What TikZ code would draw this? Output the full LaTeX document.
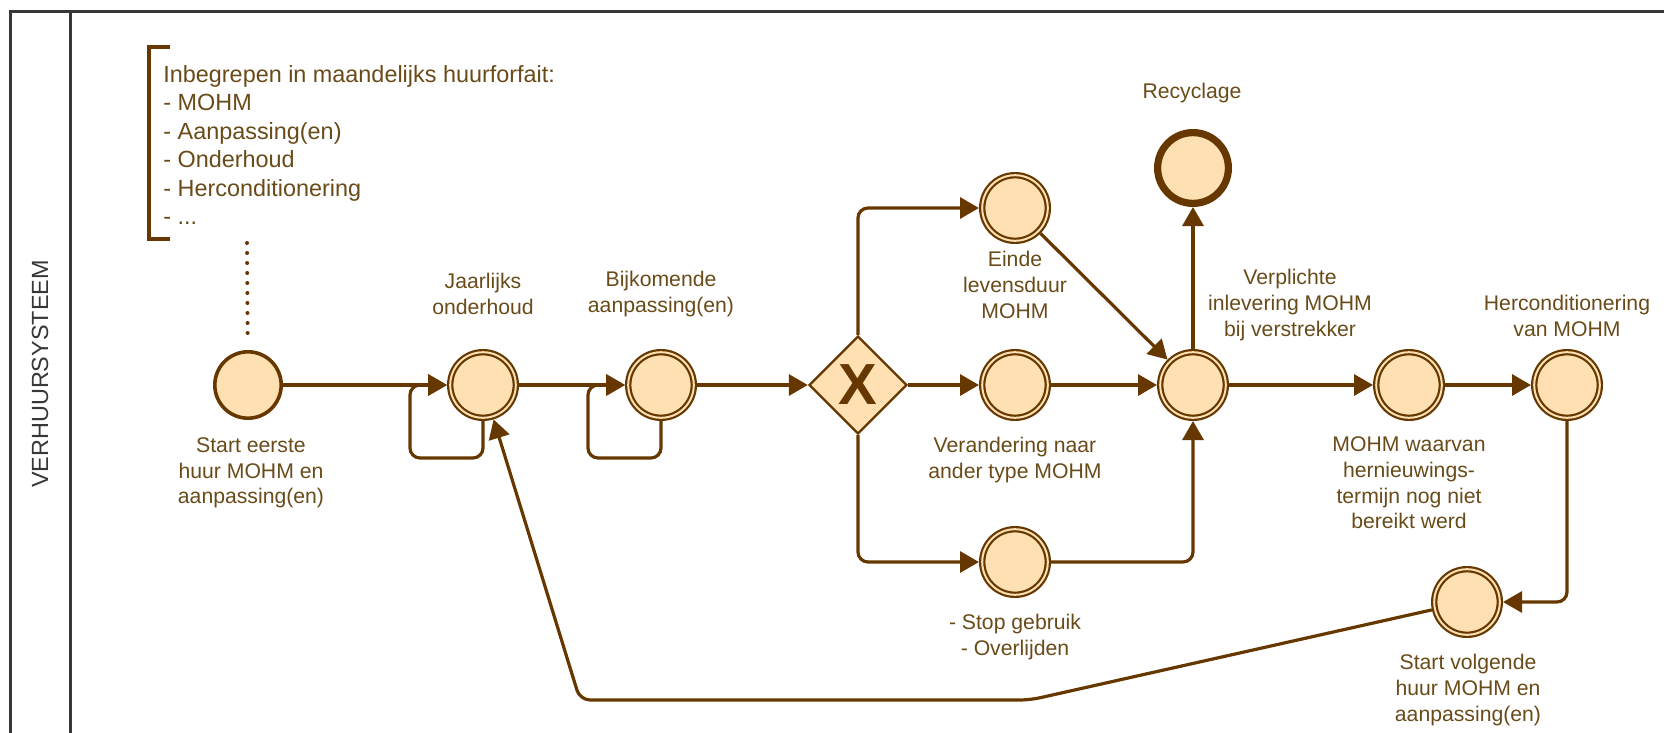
\documentclass[tikz,border=0pt]{standalone}
\usepackage{fontspec}
\setmainfont{Liberation Sans}
\usetikzlibrary{arrows.meta,shapes.geometric}

\definecolor{flowbrown}{RGB}{102,56,0}
\definecolor{eventfill}{RGB}{255,224,178}
\definecolor{labelbrown}{RGB}{105,75,25}
\definecolor{lanegrey}{RGB}{55,55,55}

\tikzset{
  flow/.style={draw=flowbrown, line width=1.6pt, rounded corners=5pt,
    -{Triangle[length=9.5pt,width=10.5pt]}},
  assoc/.style={draw=flowbrown, line width=2pt, line cap=round,
    dash pattern=on 0pt off 5pt},
  bracketline/.style={draw=flowbrown, line width=1.6pt},
  startevent/.style={circle, draw=flowbrown, fill=eventfill, line width=1.8pt,
    minimum size=33.2pt, inner sep=0pt, outer sep=0.9pt},
  midevent/.style={circle, draw=flowbrown, fill=eventfill, line width=1.1pt,
    double=eventfill, double distance=1pt, minimum size=32.8pt,
    inner sep=0pt, outer sep=1.6pt},
  endevent/.style={circle, draw=flowbrown, fill=eventfill, line width=3.6pt,
    minimum size=35.4pt, inner sep=0pt, outer sep=1.8pt},
  gateway/.style={diamond, draw=flowbrown, fill=eventfill, line width=1.2pt,
    minimum width=49pt, minimum height=49pt, inner sep=0pt, text=flowbrown,
    font=\fontsize{29}{29}\selectfont\bfseries},
  evlabel/.style={text=labelbrown, align=center, inner sep=0pt,
    font=\fontsize{10.6}{12.85}\selectfont},
  notetext/.style={text=labelbrown, align=left, inner sep=0pt,
    font=\fontsize{11.7}{14.2}\selectfont},
  lanetext/.style={text=lanegrey, inner sep=0pt,
    font=\fontsize{11.7}{14}\selectfont}
}

\begin{document}
\begin{tikzpicture}[x=0.5pt, y=-0.5pt]

\useasboundingbox (0,0) rectangle (1664,733);

% pool and lane
\draw [lanegrey, line width=1.5pt] (10,12) rectangle (1700,760);
\draw [lanegrey, line width=1.5pt] (70,12) -- (70,760);
\node [lanetext, rotate=90] (lane) at (40,374) {VERHUURSYSTEEM};

% annotation
\node [notetext, anchor=west] (note) at (163,145)
  {Inbegrepen in maandelijks huurforfait:\\- MOHM\\- Aanpassing(en)\\- Onderhoud\\- Herconditionering\\- ...};
\draw [bracketline] (170,47) -| (149,239) -- (170,239);
\coordinate (notefoot) at (247,243);

% events
\node [startevent] (start) at (248,385) {};
\node [midevent] (jaar) at (483,385) {};
\node [midevent] (bijk) at (661,385) {};
\node [gateway] (gate) at (858,385) {X};
\node [midevent] (einde) at (1015,208) {};
\node [midevent] (veran) at (1015,385) {};
\node [midevent] (stop) at (1015,562) {};
\node [midevent] (verpl) at (1193,385) {};
\node [endevent] (recyc) at (1193,168) {};
\node [midevent] (waarvan) at (1409,385) {};
\node [midevent] (hercon) at (1567,385) {};
\node [midevent] (volg) at (1467,602) {};

% labels
\node [evlabel] (startlbl) at (251,473) {Start eerste\\huur MOHM en\\aanpassing(en)};
\node [evlabel] (jaarlbl) at (483,294) {Jaarlijks\\onderhoud};
\node [evlabel] (bijklbl) at (661,294) {Bijkomende\\aanpassing(en)};
\node [evlabel] (eindelbl) at (1015,285) {Einde\\levensduur\\MOHM};
\node [evlabel] (veranlbl) at (1015,460) {Verandering naar\\ander type MOHM};
\node [evlabel] (stoplbl) at (1015,637) {- Stop gebruik\\- Overlijden};
\node [evlabel] (verpllbl) at (1290,305) {Verplichte\\inlevering MOHM\\bij verstrekker};
\node [evlabel] (recyclbl) at (1192,93) {Recyclage};
\node [evlabel] (waarvanlbl) at (1409,483) {MOHM waarvan\\hernieuwings-\\termijn nog niet\\bereikt werd};
\node [evlabel] (herconlbl) at (1567,316) {Herconditionering\\van MOHM};
\node [evlabel] (volglbl) at (1468,690) {Start volgende\\huur MOHM en\\aanpassing(en)};

% flows
\draw [assoc, shorten >=5pt] (notefoot) -- (start);
\draw [flow] (start) -- (jaar);
\draw [flow] (jaar.south) |- ++(-73,37) |- (jaar.west);
\draw [flow] (jaar) -- (bijk);
\draw [flow] (bijk.south) |- ++(-73,37) |- (bijk.west);
\draw [flow] (bijk) -- (gate);
\draw [flow] (gate) |- (einde);
\draw [flow] (gate) -- (veran);
\draw [flow] (gate) |- (stop);
\draw [flow] (einde) -- (verpl);
\draw [flow] (veran) -- (verpl);
\draw [flow] (stop) -| (verpl);
\draw [flow] (verpl) -- (recyc);
\draw [flow] (verpl) -- (waarvan);
\draw [flow] (waarvan) -- (hercon);
\draw [flow] (hercon) |- (volg);

\coordinate (backR) at (1030,700);
\coordinate (backL) at (580,700);
\draw [flow] (volg) -- (backR) -- (backL) -- (jaar);

\end{tikzpicture}
\end{document}
